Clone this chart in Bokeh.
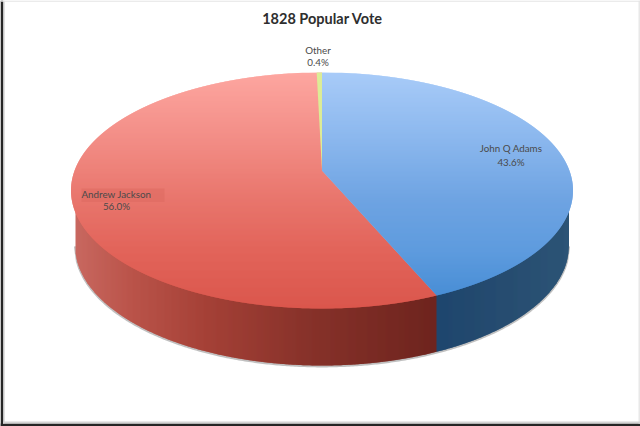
import numpy as np
from bokeh.plotting import figure
from bokeh.embed import file_html
from bokeh.resources import INLINE
from bokeh.core.properties import value
from bokeh.models import Range1d

title = "1828 Popular Vote"
candidates = ["John Q Adams", "Andrew Jackson", "Other"]
shares = [43.6, 56.0, 0.4]
share_labels = ["43.6%", "56.0%", "0.4%"]

# geometry of the projected disc, in page pixels
CX, CY, RX, RY, APEX_UP = 321.5, 190.0, 251.0, 118.0, 20.0
CX2, CY2, RX2, RY2 = 321.5, 245.0, 247.0, 120.0
# perspective factor so the disc centre lands on the apex
far, near = RY - APEX_UP, RY + APEX_UP
K = (near - far) / (near + far)
B = far * (1 + K)
A = RX * np.sqrt(1 - K * K)


def project(frac):
    phi = 2 * np.pi * frac
    X, Y = np.sin(phi), np.cos(phi)
    d = 1 + K * Y
    return CX + A * X / d, CY - APEX_UP - B * Y / d


def lerp(stops, t):
    xs = [s[0] for s in stops]
    return "#%02x%02x%02x" % tuple(int(round(np.interp(t, xs, [s[1][i] for s in stops]))) for i in range(3))


def half_width(y):
    return RX * np.sqrt(np.clip(1 - ((y - CY) / RY) ** 2, 0, 1))


def top_lower_arc(x):
    return CY + RY * np.sqrt(np.clip(1 - ((x - CX) / RX) ** 2, 0, 1))


def side_lower_arc(x):
    return CY2 + RY2 * np.sqrt(np.clip(1 - ((x - CX2) / RX2) ** 2, 0, 1))


RED_TOP = [(72, (253, 166, 160)), (135, (243, 142, 135)), (200, (232, 117, 108)), (250, (226, 100, 90)), (310, (218, 86, 76))]
BLUE_TOP = [(72, (168, 203, 248)), (135, (140, 184, 238)), (200, (110, 163, 226)), (250, (94, 155, 222)), (300, (70, 140, 212))]
RED_SIDE = [(74, (200, 104, 96)), (130, (186, 84, 74)), (204, (165, 65, 55)), (306, (135, 50, 42)), (436, (110, 36, 30))]
BLUE_SIDE = [(436, (30, 70, 110)), (500, (38, 76, 112)), (568, (44, 84, 118))]

p = figure(width=640, height=426, output_backend="svg", toolbar_location=None,
           x_range=Range1d(0, 640), y_range=Range1d(426, 0), min_border=0,
           outline_line_color=None, background_fill_color="white")
p.xaxis.visible = False
p.yaxis.visible = False
p.grid.visible = False

blue_end = project(shares[0] / 100)
apex = (CX, CY - APEX_UP)

# screen-capture frame
p.quad(left=[0, 0, 2.5, 638, 0, 2.5], right=[2.5, 640, 4, 640, 640, 640],
       top=[0, 423, 0, 0, 0, 421], bottom=[426, 426, 423, 423, 1.2, 423],
       fill_color=["#262626", "#262626", "#c4c4c4", "#e8e8e8", "#e4e4e4", "#d4d4d4"], line_color=None)

# shadow under the side wall
sx = np.arange(CX2 - RX2, CX2 + RX2 + 0.1, 2.0)
sy = side_lower_arc(sx)
p.line(sx, sy + 0.8, line_color="#8c8c8c", line_width=2.2, line_alpha=0.55)

# side wall, column by column, each piece overlapping the next
cols = np.arange(np.ceil(CX2 - RX2), CX2 + RX2, 1.0)
side_x, side_y, side_c = [], [], []
for x in cols:
    x1 = min(x + 2.0, CX2 + RX2)
    side_x.append([x, x1, x1, x])
    side_y.append([top_lower_arc(x) - 1, top_lower_arc(x1) - 1, side_lower_arc(x1), side_lower_arc(x)])
    side_c.append(lerp(RED_SIDE if x + 0.5 < blue_end[0] else BLUE_SIDE, x))
p.patches(side_x, side_y, fill_color=side_c, line_color=None)

# top face, band by band, so the vertical gradient can be kept
slope = (blue_end[0] - apex[0]) / (blue_end[1] - apex[1])


def split_at(y):
    raw = np.where(y < apex[1], CX, apex[0] + (y - apex[1]) * slope)
    h = half_width(y)
    return np.clip(raw, CX - h, CX + h)


rows = np.arange(CY - RY, CY + RY, 1.0)
red_x, red_y, red_c, blue_x, blue_y, blue_c = [], [], [], [], [], []
for r in rows:
    ys = np.linspace(r, min(r + 2.0, CY + RY), 12)
    h = half_width(ys)
    s = split_at(ys)
    red_x.append(list(CX - h) + list(s[::-1]))
    red_y.append(list(ys) + list(ys[::-1]))
    red_c.append(lerp(RED_TOP, r))
    blue_x.append(list(s) + list((CX + h)[::-1]))
    blue_y.append(list(ys) + list(ys[::-1]))
    blue_c.append(lerp(BLUE_TOP, r))
p.patches(red_x, red_y, fill_color=red_c, line_color=None)
p.patches(blue_x, blue_y, fill_color=blue_c, line_color=None)

# the small "Other" wedge
fr = np.linspace(1 - shares[2] / 100, 1, 5)
pts = [project(f) for f in fr]
p.patch([apex[0]] + [q[0] for q in pts], [apex[1]] + [q[1] for q in pts],
        fill_color="#dcec96", line_color=None)

# tinted box behind the Andrew Jackson label
p.quad(left=[81], right=[164], top=[188], bottom=[201.5], fill_color="#dc6a60", fill_alpha=0.55, line_color=None)

FONT = value("Lato")
p.text(x=[322], y=[18], text=[title], text_font=FONT, text_font_size="14.5px", text_font_style="bold",
       text_color="#2e2e2e", text_align="center", text_baseline="middle")

name_xy = {"John Q Adams": (510.5, 147.5), "Andrew Jackson": (116, 193.5), "Other": (317.5, 49)}
pct_xy = {"John Q Adams": (510.5, 161), "Andrew Jackson": (116, 205), "Other": (317.5, 61)}
p.text(x=[name_xy[c][0] for c in candidates], y=[name_xy[c][1] for c in candidates], text=candidates,
       text_font=FONT, text_font_size="9.8px", text_color="#4a4a4a", text_align="center", text_baseline="middle")
p.text(x=[pct_xy[c][0] for c in candidates], y=[pct_xy[c][1] for c in candidates], text=share_labels,
       text_font=FONT, text_font_size="9.8px", text_color="#4a4a4a", text_align="center", text_baseline="middle")

open("out.html", "w").write(file_html(p, INLINE))
